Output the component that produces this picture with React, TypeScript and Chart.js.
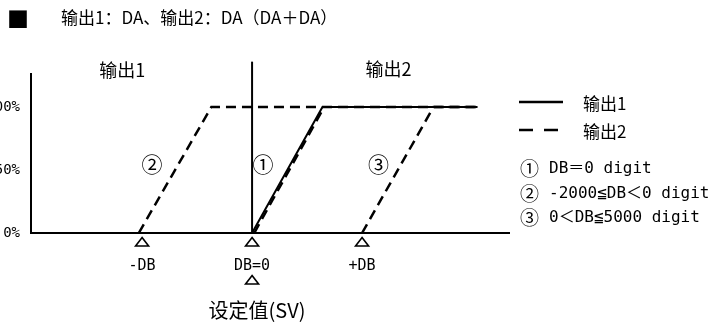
import React, { useEffect, useRef } from 'react';
import { Chart, registerables } from 'chart.js';

Chart.register(...registerables);

// ---- data ----
const titleText = '输出1：DA、输出2：DA（DA＋DA）';
const axisTitle = '设定值(SV)';

const xTickValues = [-1, 0, 1];
const xTickLabels = ['-DB', 'DB=0', '+DB'];
const yTickValues = [0, 50, 100];
const yTickLabels = ['0%', '50%', '100%'];

// output 1 (solid)
const out1X = [0, 0.64, 2.05];
const out1Y = [0, 100, 100];
// divider line at DB=0
const dividerX = [0, 0];
const dividerY = [0, 136];
// output 2 (dashed) — three dead-band cases
const case1X = [0.02, 0.655];
const case1Y = [0, 100];
const case2X = [-1.03, -0.37, 2.05];
const case2Y = [0, 100, 100];
const case3X = [1.0, 1.65, 2.05];
const case3Y = [0, 100, 100];

// in-chart case markers
const caseMarks = ['①', '②', '③'];
const caseMarkX = [0.1, -0.91, 1.15];
const caseMarkY = [55, 55, 55];

// region labels
const regionLabels = ['输出1', '输出2'];
const regionX = [-1.18, 1.24];
const regionY = [129, 130];

// legend
const legendSeries = ['输出1', '输出2'];
const legendNoteTexts = ['DB＝0 digit', '-2000≦DB＜0 digit', '0＜DB≦5000 digit'];

const pts = (xs: number[], ys: number[]) => xs.map((x, i) => ({ x, y: ys[i] }));

const CJK = '"Noto Sans CJK SC", sans-serif';
const MONO = '"DejaVu Sans Mono", "Noto Sans CJK SC", monospace';

const overlay = {
  id: 'overlay',
  afterDraw(chart: any) {
    const { ctx } = chart;
    const x = chart.scales.x;
    const y = chart.scales.y;
    ctx.save();
    ctx.fillStyle = '#000';
    ctx.strokeStyle = '#000';
    ctx.textBaseline = 'middle';

    // title
    ctx.textAlign = 'left';
    ctx.font = `22px ${CJK}`;
    ctx.fillText('■', 7, 19);
    ctx.font = `17px ${CJK}`;
    ctx.fillText(titleText, 61, 18);

    // region labels
    ctx.textAlign = 'center';
    ctx.font = `18px ${CJK}`;
    regionLabels.forEach((t, i) => {
      ctx.fillText(t, x.getPixelForValue(regionX[i]), y.getPixelForValue(regionY[i]));
    });

    // case marks
    ctx.font = `21px ${CJK}`;
    caseMarks.forEach((t, i) => {
      ctx.fillText(t, x.getPixelForValue(caseMarkX[i]), y.getPixelForValue(caseMarkY[i]));
    });

    // triangles under ticks
    const tri = (cx: number, cy: number) => {
      ctx.beginPath();
      ctx.moveTo(cx, cy - 4.5);
      ctx.lineTo(cx + 6.5, cy + 4);
      ctx.lineTo(cx - 6.5, cy + 4);
      ctx.closePath();
      ctx.fillStyle = '#fff';
      ctx.fill();
      ctx.lineWidth = 1.6;
      ctx.stroke();
      ctx.fillStyle = '#000';
    };
    const base = x.top;
    xTickValues.forEach((v) => tri(x.getPixelForValue(v), base + 9));
    tri(x.getPixelForValue(0), base + 47);

    // axis title
    ctx.font = `20px ${CJK}`;
    ctx.textAlign = 'center';
    ctx.fillText(axisTitle, x.getPixelForValue(0) + 5, base + 77);

    // legend
    const lx0 = 519, lx1 = 563;
    ctx.lineWidth = 2.5;
    ctx.beginPath();
    ctx.setLineDash([]);
    ctx.moveTo(lx0, 102);
    ctx.lineTo(lx1, 102);
    ctx.stroke();
    ctx.beginPath();
    ctx.setLineDash([14, 11]);
    ctx.moveTo(lx0, 130);
    ctx.lineTo(lx1, 130);
    ctx.stroke();
    ctx.setLineDash([]);
    ctx.textAlign = 'left';
    ctx.font = `17px ${CJK}`;
    legendSeries.forEach((t, i) => ctx.fillText(t, 583, 104 + i * 28));
    legendNoteTexts.forEach((t, i) => {
      const yy = 169 + i * 24.5;
      ctx.font = `19px ${CJK}`;
      ctx.fillText(caseMarks[i], 520, yy);
      ctx.font = `16px ${MONO}`;
      ctx.fillText(t, 549, yy);
    });

    ctx.restore();
  },
};

export default function App() {
  const ref = useRef<HTMLCanvasElement>(null);
  useEffect(() => {
    if (!ref.current) return;
    const solid = { borderColor: '#000', borderWidth: 2, pointRadius: 0, tension: 0, fill: false };
    const dashed = { ...solid, borderWidth: 2.5, borderDash: [10, 6] };
    const chart = new Chart(ref.current, {
      type: 'line',
      data: {
        datasets: [
          { label: 'case2', data: pts(case2X, case2Y), ...dashed },
          { label: 'case3', data: pts(case3X, case3Y), ...dashed },
          { label: 'case1', data: pts(case1X, case1Y), ...dashed },
          { label: '输出1', data: pts(out1X, out1Y), ...solid },
          { label: 'divider', data: pts(dividerX, dividerY), ...solid, clip: false as any },
        ],
      },
      options: {
        animation: false,
        responsive: false,
        devicePixelRatio: 1,
        layout: { padding: { top: 74, right: 206, bottom: 0, left: 0 } },
        plugins: { legend: { display: false }, tooltip: { enabled: false }, title: { display: false } },
        scales: {
          x: {
            type: 'linear',
            min: -2.01,
            max: 2.336,
            grid: { display: false, drawTicks: false },
            border: { display: true, color: '#000', width: 2 },
            afterBuildTicks: (s: any) => {
              s.ticks = xTickValues.map((v) => ({ value: v }));
            },
            afterFit: (s: any) => {
              s.height = 96;
            },
            ticks: {
              color: '#000',
              font: { family: MONO, size: 15 },
              padding: 24,
              maxRotation: 0,
              autoSkip: false,
              callback: (v: any) => {
                const i = xTickValues.indexOf(Number(v));
                return i >= 0 ? xTickLabels[i] : '';
              },
            },
          },
          y: {
            type: 'linear',
            min: 0,
            max: 126.2,
            grid: { display: false, drawTicks: false },
            border: { display: true, color: '#000', width: 2 },
            afterBuildTicks: (s: any) => {
              s.ticks = yTickValues.map((v) => ({ value: v }));
            },
            afterFit: (s: any) => {
              s.width = 31;
            },
            ticks: {
              color: '#000',
              font: { family: MONO, size: 14 },
              padding: 11,
              callback: (v: any) => {
                const i = yTickValues.indexOf(Number(v));
                return i >= 0 ? yTickLabels[i] : '';
              },
            },
          },
        },
      },
      plugins: [overlay],
    });
    return () => chart.destroy();
  }, []);
  return (
    <div style={{ position: 'fixed', left: 0, top: 0, width: 715, height: 329, background: '#fff' }}>
      <canvas ref={ref} width={715} height={329} style={{ width: 715, height: 329, display: 'block' }} />
    </div>
  );
}
